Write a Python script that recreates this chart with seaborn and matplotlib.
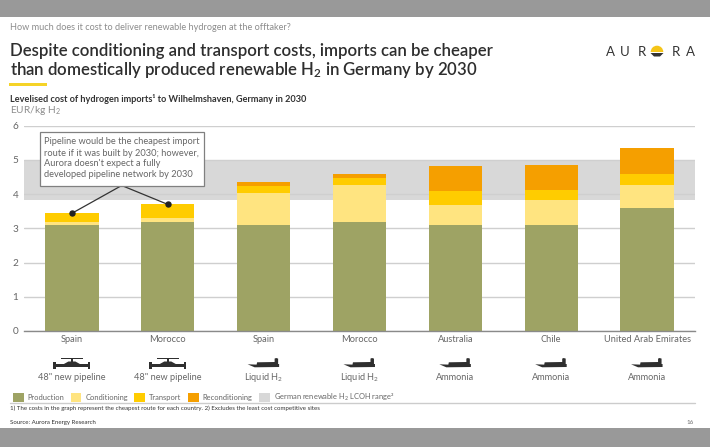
import matplotlib
matplotlib.use('Agg')
import matplotlib.pyplot as plt
from matplotlib.patches import Patch, Polygon, Rectangle, Wedge
import seaborn as sns
import numpy as np

# Values (EUR/kg H2)
countries = ['Spain', 'Morocco', 'Spain', 'Morocco', 'Australia', 'Chile', 'United Arab Emirates']
routes = ['48" new pipeline', '48" new pipeline', 'Liquid H$_2$', 'Liquid H$_2$', 'Ammonia', 'Ammonia', 'Ammonia']
production = [3.10, 3.20, 3.10, 3.20, 3.10, 3.10, 3.60]
conditioning = [0.09, 0.10, 0.94, 1.06, 0.58, 0.72, 0.68]
transport = [0.25, 0.40, 0.20, 0.21, 0.41, 0.30, 0.32]
reconditioning = [0.00, 0.00, 0.11, 0.11, 0.73, 0.73, 0.74]
band_low, band_high = 3.83, 5.0
yticks = [0, 1, 2, 3, 4, 5, 6]

layer_names = ['Production', 'Conditioning', 'Transport', 'Reconditioning']
layer_colors = ['#9ea364', '#ffe480', '#ffcc00', '#f59f00']
band_color = '#d8d8d8'
grey_text = '#666666'
dark_text = '#2e2e2e'
icon_color = '#2f2f2f'

sns.set_theme(style='white')
plt.rcParams['font.family'] = ['Lato', 'DejaVu Sans']
plt.rcParams['mathtext.default'] = 'regular'

fig = plt.figure(figsize=(7.10, 4.47), dpi=100)
ax = fig.add_axes([24 / 710, (447 - 331) / 447, 671 / 710, 205.3 / 447])

# Stacked bars
layers = [production, conditioning, transport, reconditioning]
bottom = np.zeros(len(countries))
positions = list(range(len(countries)))
for values, color in zip(layers, layer_colors):
    sns.barplot(x=positions, y=values, bottom=bottom, color=color, width=0.556,
                saturation=1, errorbar=None, linewidth=0, ax=ax, zorder=3)
    bottom = bottom + np.array(values)

ax.axhspan(band_low, band_high, color=band_color, lw=0, zorder=1)
ax.set_xlim(-0.5, len(countries) - 0.5)
ax.set_ylim(0, 6)
ax.set_yticks(yticks)
ax.set_xticks(positions)
ax.set_xticklabels(countries)
ax.set_xlabel('')
ax.set_ylabel('')
ax.tick_params(length=0, labelsize=6.7, labelcolor=grey_text)
ax.tick_params(axis='x', pad=3)
ax.tick_params(axis='y', pad=4, labelsize=7.2)
ax.yaxis.grid(True, color='#cfcfcf', lw=1, zorder=2)
ax.set_axisbelow(False)
for gl in ax.get_ygridlines():
    gl.set_zorder(2)
for side in ['top', 'left', 'right']:
    ax.spines[side].set_visible(False)
ax.spines['bottom'].set_color('#8a8a8a')
ax.spines['bottom'].set_linewidth(1)
ax.spines['bottom'].set_zorder(5)

# Overlay in pixel coordinates for the slide furniture
bg = fig.add_axes([0, 0, 1, 1], facecolor='none')
bg.set_xlim(0, 710)
bg.set_ylim(447, 0)
bg.axis('off')

bg.add_patch(Rectangle((0, 0), 710, 16.7, color='#999999', lw=0))
bg.add_patch(Rectangle((0, 428), 710, 19, color='#999999', lw=0))
bg.add_patch(Rectangle((9, 83), 38, 2.6, color='#f5d327', lw=0))
bg.plot([10, 695], [402.7, 402.7], color='#cccccc', lw=1)

bg.text(10, 28, 'How much does it cost to deliver renewable hydrogen at the offtaker?',
        fontsize=6.6, color='#8c8c8c', va='center')
bg.text(10, 51, 'Despite conditioning and transport costs, imports can be cheaper',
        fontsize=12.05, color=dark_text, va='center', fontweight='semibold')
bg.text(10, 69.5, 'than domestically produced renewable H$_2$ in Germany by 2030',
        fontsize=12.05, color=dark_text, va='center', fontweight='semibold')
bg.text(10, 99.5, 'Levelised cost of hydrogen imports¹ to Wilhelmshaven, Germany in 2030',
        fontsize=6.55, color='#333333', va='center', fontweight='bold')
bg.text(10, 110.5, 'EUR/kg H$_2$', fontsize=7.3, color='#8c8c8c', va='center')

# Logo
for ch, lx in zip('AURRA', [610, 625, 641.5, 676, 690.5]):
    bg.text(lx, 52, ch, fontsize=9.5, color='#333333', ha='center', va='center')
bg.add_patch(Wedge((657, 52), 6.3, 180, 360, color='#f5c518', lw=0))
bg.add_patch(Polygon([(650.5, 53), (663.5, 53), (660, 56.5), (654, 56.5)], color='#333333', lw=0))

# Callout
tops = np.array(production) + np.array(conditioning) + np.array(transport)
box_anchor = (121.7, 185.5)
for i in [0, 1]:
    ax.annotate('', xy=(i, tops[i]), xycoords='data', xytext=box_anchor, textcoords=bg.transData,
                arrowprops=dict(arrowstyle='-', color='#333333', lw=0.9, shrinkA=0, shrinkB=0),
                zorder=6)
ax.plot([0, 1], tops[:2], 'o', color='#222222', ms=3.6, zorder=6, clip_on=False)
bg.add_patch(Rectangle((39.5, 132), 164.5, 53.5, facecolor='white', edgecolor='#808080', lw=0.9, zorder=6))
callout = ['Pipeline would be the cheapest import',
           'route if it was built by 2030; however,',
           "Aurora doesn't expect a fully",
           'developed pipeline network by 2030']
for line, ly in zip(callout, [142, 153, 164, 174.5]):
    bg.text(43.5, ly, line, fontsize=6.65, color=grey_text, va='center', zorder=7)


def draw_pipe(cx):
    bg.add_patch(Rectangle((cx - 16, 363.7), 32, 3.3, color=icon_color, lw=0))
    bg.add_patch(Rectangle((cx - 18.5, 362), 2.5, 6.7, color=icon_color, lw=0))
    bg.add_patch(Rectangle((cx + 16, 362), 2.5, 6.7, color=icon_color, lw=0))
    bg.add_patch(Polygon([(cx - 8, 364), (cx + 8, 364), (cx + 3.5, 361.5), (cx - 3.5, 361.5)], color=icon_color, lw=0))
    bg.add_patch(Rectangle((cx - 1, 358.5), 2, 3.5, color=icon_color, lw=0))
    bg.add_patch(Rectangle((cx - 11, 358.2), 22, 1.1, color=icon_color, lw=0))


def draw_ship(cx):
    hull = [(cx - 16, 364.3), (cx - 7, 364.6), (cx - 6.5, 362.3), (cx + 11, 362), (cx + 11, 358.6),
            (cx + 12.5, 358), (cx + 14.5, 358.6), (cx + 14.5, 364), (cx + 15.5, 364), (cx + 15.5, 367),
            (cx - 9, 367.3)]
    bg.add_patch(Polygon(hull, color=icon_color, lw=0))


for i, route in enumerate(routes):
    cx = 71.9 + 95.86 * i
    if 'pipeline' in route:
        draw_pipe(cx)
    else:
        draw_ship(cx)
    bg.text(cx, 377, route, fontsize=6.6, color=grey_text, ha='center', va='center')

# Legend
handles = [Patch(color=c, lw=0) for c in layer_colors + [band_color]]
labels = layer_names + ['German renewable H$_2$ LCOH range²']
fig.legend(handles, labels, loc='center left', bbox_to_anchor=(12.7 / 710, 1 - 397.5 / 447), ncol=5,
           frameon=False, fontsize=5.4, labelcolor=grey_text, handlelength=1.46, handleheight=1.45,
           handletextpad=0.55, columnspacing=0.8, borderaxespad=0, borderpad=0)

bg.text(10, 408, '1) The costs in the graph represent the cheapest route for each country. 2) Excludes the least cost competitive sites',
        fontsize=4.4, color='#333333', va='center')
bg.text(10, 422.5, 'Source: Aurora Energy Research', fontsize=4.4, color='#333333', va='center')
bg.text(694, 422.5, '16', fontsize=4.4, color=grey_text, va='center', ha='right')

fig.savefig('out.png', dpi=100, facecolor='white')
